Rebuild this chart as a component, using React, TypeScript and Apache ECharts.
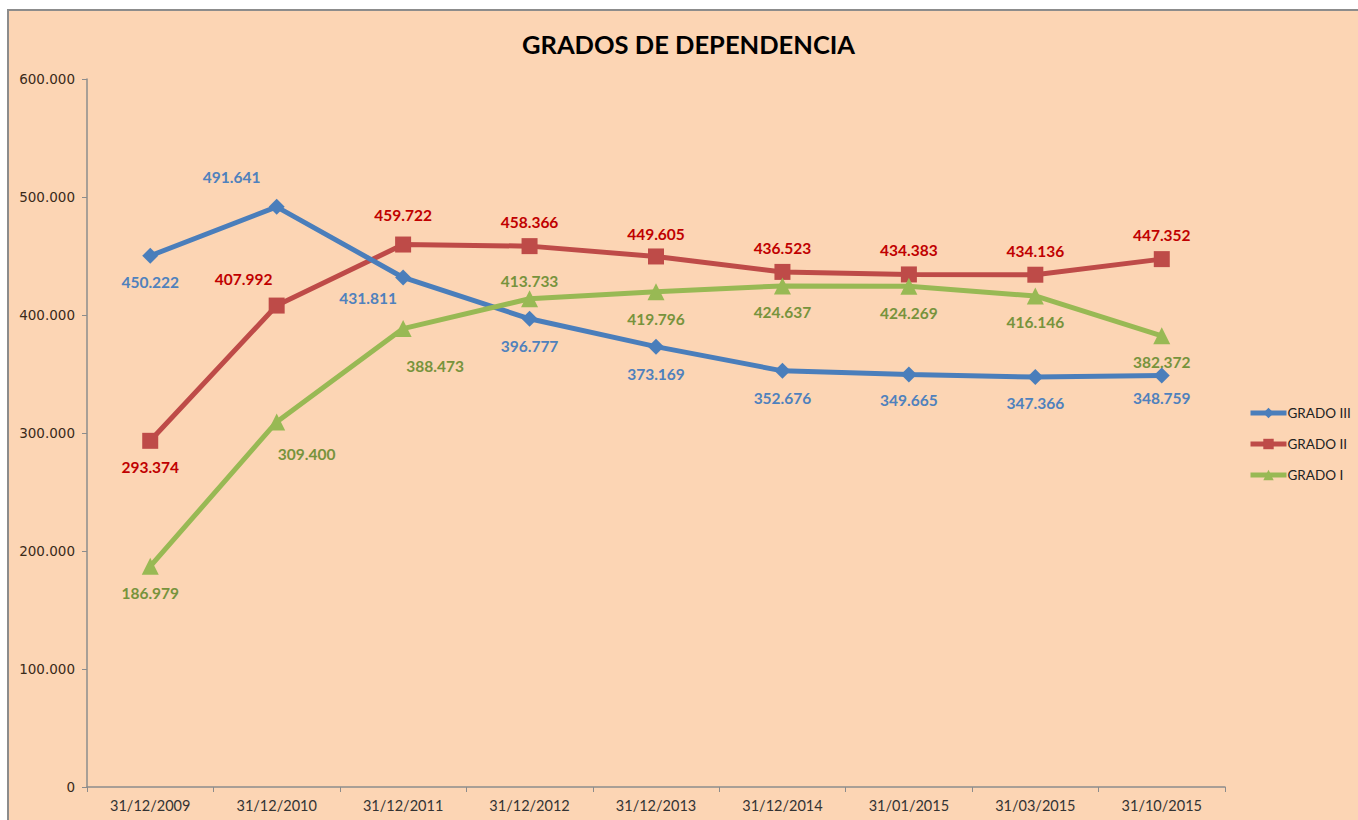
import React, { useEffect, useRef } from "react";
import * as echarts from "echarts";

const categories = [
  "31/12/2009", "31/12/2010", "31/12/2011", "31/12/2012", "31/12/2013",
  "31/12/2014", "31/01/2015", "31/03/2015", "31/10/2015",
];
const gradoIII = [450222, 491641, 431811, 396777, 373169, 352676, 349665, 347366, 348759];
const gradoII = [293374, 407992, 459722, 458366, 449605, 436523, 434383, 434136, 447352];
const gradoI = [186979, 309400, 388473, 413733, 419796, 424637, 424269, 416146, 382372];

// label placement per point: [position, dx, dy]
const posIII: [string, number, number][] = [
  ["bottom", 0, 5], ["top", -45, -9], ["bottom", -35, 0], ["bottom", 0, 6], ["bottom", 0, 6],
  ["bottom", 0, 6], ["bottom", 0, 5], ["bottom", 0, 5], ["bottom", 0, 2],
];
const posII: [string, number, number][] = [
  ["bottom", 0, 5], ["top", -33, -6], ["top", 0, -9], ["top", 0, -3], ["top", 0, -1],
  ["top", 0, -3], ["top", 0, -3], ["top", 0, -3], ["top", 0, -3],
];
const posI: [string, number, number][] = [
  ["bottom", 0, 5], ["bottom", 30, 11], ["bottom", 32, 16], ["top", 0, 4], ["bottom", 0, 6],
  ["bottom", 0, 5], ["bottom", 0, 5], ["bottom", 0, 5], ["bottom", 0, 5],
];

const fmt = (v: number) => v.toString().replace(/\B(?=(\d{3})+(?!\d))/g, ".");

function makeData(vals: number[], pos: [string, number, number][]) {
  return vals.map((v, i) => ({
    value: v,
    label: { position: pos[i][0], offset: [pos[i][1], pos[i][2]] },
  }));
}

export default function App() {
  const ref = useRef<HTMLDivElement>(null);
  useEffect(() => {
    const chart = echarts.init(ref.current!, undefined, { renderer: "svg" });
    const labelBase = {
      show: true,
      fontFamily: "Lato, 'Open Sans', sans-serif",
      fontWeight: "bold" as const,
      fontSize: 15.5,
      formatter: (p: any) => fmt(p.value),
    };
    chart.setOption({
      animation: false,
      backgroundColor: "#ffffff",
      graphic: [
        {
          type: "rect",
          z: -10,
          silent: true,
          shape: { x: 8, y: 10, width: 1360, height: 820 },
          style: { fill: "#FCD5B4", stroke: "#8c8c8c", lineWidth: 2 },
        },
      ],
      title: {
        text: "GRADOS DE DEPENDENCIA",
        left: 517,
        top: 26,
        textStyle: {
          fontFamily: "Lato, 'Open Sans', sans-serif",
          fontWeight: "bold",
          fontSize: 25.5,
          color: "#000000",
        },
      },
      grid: { left: 87, right: 133, top: 79, bottom: 33, containLabel: false },
      legend: {
        orient: "vertical",
        left: 1248,
        top: 406,
        padding: 0,
        itemGap: 17,
        itemWidth: 36,
        itemHeight: 13,
        data: ["GRADO III", "GRADO II", "GRADO I"],
        lineStyle: { width: 5 },
        textStyle: {
          fontFamily: "Lato, 'Open Sans', sans-serif",
          fontSize: 13.5,
          color: "#222222",
          padding: [0, 0, 0, -4],
        },
      },
      xAxis: {
        type: "category",
        data: categories,
        boundaryGap: true,
        axisLine: { lineStyle: { color: "#8c8c8c", width: 1.5 } },
        axisTick: { show: true, length: 5, lineStyle: { color: "#8c8c8c" } },
        axisLabel: {
          fontFamily: "Lato, 'Open Sans', sans-serif",
          fontSize: 14.5,
          color: "#333333",
          margin: 11,
        },
      },
      yAxis: {
        type: "value",
        min: 0,
        max: 600000,
        interval: 100000,
        axisLine: { show: true, lineStyle: { color: "#8c8c8c", width: 1.5 } },
        axisTick: { show: true, length: 5, lineStyle: { color: "#8c8c8c" } },
        splitLine: { show: false },
        axisLabel: {
          fontFamily: "'DejaVu Sans', sans-serif",
          fontSize: 13.5,
          color: "#3a2a1a",
          margin: 12,
          formatter: (v: number) => fmt(v),
        },
      },
      series: [
        {
          name: "GRADO III",
          type: "line",
          data: makeData(gradoIII, posIII),
          symbol: "diamond",
          symbolSize: 16,
          lineStyle: { width: 5, color: "#4A7EBB" },
          itemStyle: { color: "#4A7EBB" },
          label: { ...labelBase, color: "#4F81BD" },
          z: 3,
        },
        {
          name: "GRADO II",
          type: "line",
          data: makeData(gradoII, posII),
          symbol: "rect",
          symbolSize: 16,
          lineStyle: { width: 5, color: "#BE4B48" },
          itemStyle: { color: "#BE4B48" },
          label: { ...labelBase, color: "#C00000" },
          z: 2,
        },
        {
          name: "GRADO I",
          type: "line",
          data: makeData(gradoI, posI),
          symbol: "triangle",
          symbolSize: 17,
          lineStyle: { width: 5, color: "#98B954" },
          itemStyle: { color: "#98B954" },
          label: { ...labelBase, color: "#77933C" },
          z: 4,
        },
      ],
    });
    return () => chart.dispose();
  }, []);
  return (
    <div
      ref={ref}
      style={{ position: "fixed", left: 0, top: 0, width: 1358, height: 820 }}
    />
  );
}
